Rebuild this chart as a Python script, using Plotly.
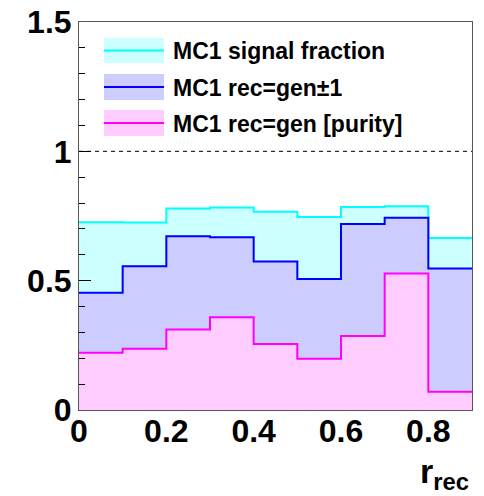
import plotly.graph_objects as go

bin_edges = [0.0, 0.1, 0.2, 0.3, 0.4, 0.5, 0.6, 0.7, 0.8, 0.9]
signal_fraction = [0.726, 0.725, 0.779, 0.783, 0.766, 0.746, 0.785, 0.788, 0.665]
rec_gen_pm1 = [0.453, 0.556, 0.672, 0.668, 0.574, 0.506, 0.719, 0.743, 0.547]
purity = [0.221, 0.237, 0.311, 0.359, 0.255, 0.198, 0.286, 0.528, 0.071]
ref_level = 1.0

series_names = ["MC1 signal fraction", "MC1 rec=gen\u00b11", "MC1 rec=gen [purity]"]
line_colors = ["#00ffff", "#0000ff", "#ff00ff"]
fill_colors = ["#ccffff", "#ccccff", "#ffccff"]

x_ticks = [0, 0.2, 0.4, 0.6, 0.8]
x_tick_text = ["0", "0.2", "0.4", "0.6", "0.8"]
y_ticks = [0, 0.5, 1, 1.5]
y_tick_text = ["0", "0.5", "1", "1.5"]

W, H = 484, 496
ML, MR, MT, MB = 79, 12, 22, 86

fig = go.Figure()
for vals, name, lc, fc in zip([signal_fraction, rec_gen_pm1, purity], series_names, line_colors, fill_colors):
    fig.add_trace(go.Scatter(
        x=bin_edges, y=list(vals) + [vals[-1]], mode="lines", line_shape="hv",
        line=dict(color=lc, width=2), fill="tozeroy", fillcolor=fc, name=name,
        showlegend=False, hoverinfo="skip"))

fig.add_trace(go.Scatter(x=[bin_edges[0], bin_edges[-1]], y=[ref_level, ref_level], mode="lines",
                         line=dict(color="black", width=1, dash="4px,4px"), showlegend=False,
                         hoverinfo="skip"))

font_family = "Liberation Sans, Arial, Helvetica, sans-serif"

fig.update_xaxes(range=[bin_edges[0], bin_edges[-1]], tickvals=x_ticks,
                 ticktext=["<b>%s</b>" % t for t in x_tick_text],
                 ticks="", showgrid=False, zeroline=False, showline=True, mirror=True,
                 linecolor="#555555", linewidth=1, ticklabelstandoff=-7, automargin=False,
                 tickfont=dict(family=font_family, size=32, color="black"))
fig.update_yaxes(range=[0, 1.5], tickvals=y_ticks,
                 ticktext=["<b>%s</b>" % t for t in y_tick_text],
                 ticks="inside", ticklen=12, tickcolor="black", tickwidth=1,
                 minor=dict(dtick=0.1, ticks="inside", ticklen=6, tickcolor="black", tickwidth=1,
                            showgrid=False),
                 showgrid=False, zeroline=False, showline=True, mirror=True,
                 linecolor="#555555", linewidth=1, automargin=False,
                 tickfont=dict(family=font_family, size=32, color="black"))

# legend drawn manually
pw = W - ML - MR
ph = H - MT - MB
def px2paper_x(px):
    return (px - ML) / pw
def px2paper_y(py):
    return 1 - (py - MT) / ph

legend_rows = [(38, 63), (74, 100), (110, 136)]
shapes = []
annotations = []
for (y0, y1), name, lc, fc in zip(legend_rows, series_names, line_colors, fill_colors):
    shapes.append(dict(type="rect", xref="paper", yref="paper",
                       x0=px2paper_x(104), x1=px2paper_x(164),
                       y0=px2paper_y(y1), y1=px2paper_y(y0),
                       fillcolor=fc, line=dict(width=0), layer="above"))
    ym = (y0 + y1) / 2
    shapes.append(dict(type="line", xref="paper", yref="paper",
                       x0=px2paper_x(104), x1=px2paper_x(164),
                       y0=px2paper_y(ym), y1=px2paper_y(ym),
                       line=dict(color=lc, width=2), layer="above"))
    annotations.append(dict(xref="paper", yref="paper", x=px2paper_x(171), y=px2paper_y(ym + 1),
                            xanchor="left", yanchor="middle", showarrow=False,
                            text="<b>%s</b>" % name,
                            font=dict(family=font_family, size=23, color="black")))

annotations.append(dict(xref="paper", yref="paper", x=px2paper_x(471), y=px2paper_y(497),
                        xanchor="right", yanchor="bottom", showarrow=False,
                        text="<b>r<sub>rec</sub></b>",
                        font=dict(family=font_family, size=34, color="black")))

fig.update_layout(width=W, height=H, margin=dict(l=ML, r=MR, t=MT, b=MB),
                  paper_bgcolor="white", plot_bgcolor="white",
                  shapes=shapes, annotations=annotations, showlegend=False)

fig.write_html("out.html")
